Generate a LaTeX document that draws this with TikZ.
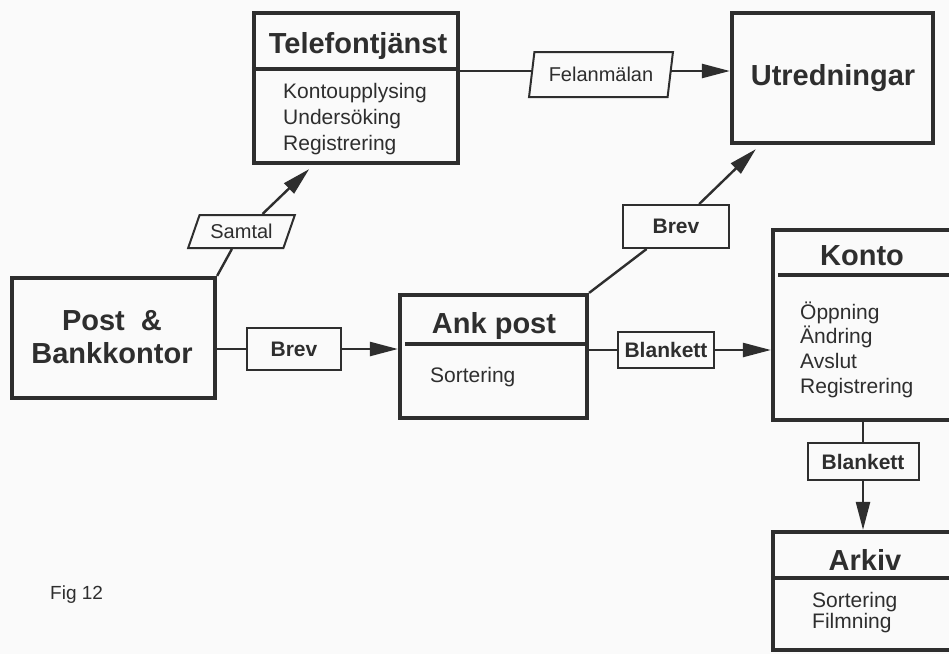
\documentclass[tikz,border=0pt]{standalone}
\usepackage{fontspec}
\setmainfont{Liberation Sans}
\usetikzlibrary{arrows.meta,shapes.geometric,calc}
\definecolor{ink}{HTML}{2E2E2E}
\definecolor{paper}{HTML}{FAFAFA}
\begin{document}
\begin{tikzpicture}[x=1pt,y=-1pt,
  every node/.style={text=ink},
  unit/.style={draw=ink, line width=4.2pt, fill=paper, rectangle, inner sep=0pt},
  rule/.style={draw=ink, line width=3.8pt},
  tag/.style={draw=ink, line width=2pt, fill=paper, inner sep=0pt,
    font=\fontsize{21}{24}\selectfont\bfseries},
  slanted/.style={draw=ink, line width=2pt, fill=paper, trapezium,
    trapezium stretches=true, inner sep=0pt, font=\fontsize{20}{24}\selectfont},
  flow/.style={draw=ink, line width=2.4pt},
  flowarrow/.style={flow, -{Triangle[length=28pt,width=14pt]}},
  head/.style={font=\fontsize{29}{34}\selectfont\bfseries, inner sep=0pt, anchor=base},
  item/.style={font=\fontsize{21}{25}\selectfont, inner sep=0pt, anchor=base west},
]
\fill[paper] (0,0) rectangle (949,654);
\useasboundingbox (0,0) rectangle (949,654);

% Telefontjänst
\node[unit, minimum width=204pt, minimum height=150pt] (tel) at (356,88) {};
\draw[rule] ($(tel.north west)+(0,58)$) -- ($(tel.north east)+(0,58)$);
\node[head] (telT) at (358,53) {Telefontjänst};
\node[item] (tel1) at (283,98) {Kontoupplysing};
\node[item] (tel2) at (283,124) {Undersöking};
\node[item] (tel3) at (283,150) {Registrering};

% Utredningar
\node[unit, minimum width=201pt, minimum height=130pt] (utr) at (832.5,78) {};
\node[head] (utrT) at (833,85) {Utredningar};

% Post & Bankkontor
\node[unit, minimum width=203pt, minimum height=120pt] (post) at (113.5,338) {};
\node[head] (postT1) at (112,330) {Post\ \ \&};
\node[head] (postT2) at (112,363) {Bankkontor};

% Ank post
\node[unit, minimum width=187pt, minimum height=123pt] (ank) at (493.5,356.5) {};
\draw[rule] ($(ank.north west)+(7,51)$) -- ($(ank.north east)+(0,51)$);
\node[head] (ankT) at (494,333) {Ank post};
\node[item] (ank1) at (430,382) {Sortering};

% Konto
\node[unit, minimum width=180pt, minimum height=190pt] (konto) at (863,325) {};
\draw[rule] ($(konto.north west)+(7,47)$) -- ($(konto.north east)+(0,47)$);
\node[head] (kontoT) at (862,265) {Konto};
\node[item] (konto1) at (800,319) {Öppning};
\node[item] (konto2) at (800,343) {Ändring};
\node[item] (konto3) at (800,368) {Avslut};
\node[item] (konto4) at (800,393) {Registrering};

% Arkiv
\node[unit, minimum width=180pt, minimum height=118pt] (arkiv) at (863,591) {};
\draw[rule] ($(arkiv.north west)+(0,48)$) -- ($(arkiv.north east)+(0,48)$);
\node[head] (arkivT) at (865,570) {Arkiv};
\node[item] (arkiv1) at (812,607) {Sortering};
\node[item] (arkiv2) at (812,628) {Filmning};

% labels on the flows
\node[slanted, trapezium left angle=60, trapezium right angle=120,
  minimum width=107pt, minimum height=33pt] (samtal) at (241.5,231.5) {Samtal};
\node[slanted, trapezium left angle=74, trapezium right angle=106,
  minimum width=144pt, minimum height=45pt] (fel) at (601,74.5) {Felanmälan};
\node[tag, minimum width=94pt, minimum height=42pt] (brev1) at (294,349) {Brev};
\node[tag, minimum width=106pt, minimum height=43pt] (brev2) at (676,226.5) {Brev};
\node[tag, minimum width=96pt, minimum height=36pt] (blank1) at (666,350) {Blankett};
\node[tag, minimum width=111pt, minimum height=37pt] (blank2) at (863,461.5) {Blankett};

\coordinate (felrow) at (0,71);
\coordinate (telin) at ($(tel.south west)!0.275!(tel.south east)+(0,4)$);
\coordinate (utrin) at ($(utr.south west)+(26,4)$);

% flows
\draw[flow] (post.north east) -- (samtal);
\draw[flowarrow] ($(samtal.north)+(21,0)$) -- (telin);
\draw[flow] (tel.east |- felrow) -- (fel.west |- felrow);
\draw[flowarrow] (fel.east |- felrow) -- (utr.west |- felrow);
\draw[flow] (post.east |- brev1) -- (brev1);
\draw[flowarrow] (brev1) -- (brev1 -| ank.west);
\draw[flow] (ank.north east) -- (brev2);
\draw[flowarrow] (brev2) -- (utrin);
\draw[flow] (ank.east |- blank1) -- (blank1);
\draw[flowarrow] (blank1) -- (blank1 -| konto.west);
\draw[flow] (konto.south) -- (blank2);
\draw[flowarrow] (blank2) -- (arkiv.north);

\node[font=\fontsize{19}{22}\selectfont, anchor=base west, inner sep=0pt] (fig) at (50,599) {Fig 12};
\end{tikzpicture}
\end{document}
